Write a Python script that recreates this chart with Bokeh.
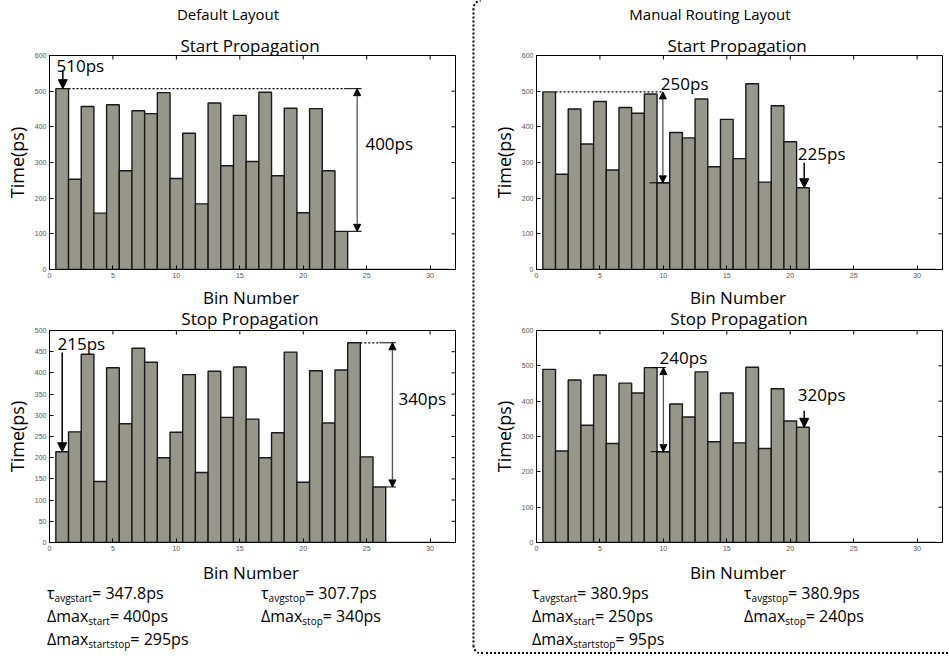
import numpy as np
from bokeh.plotting import figure
from bokeh.layouts import row, column
from bokeh.models import Arrow, NormalHead, Range1d, LinearAxis, FixedTicker, Div, ColumnDataSource, Label
from bokeh.embed import file_html
from bokeh.resources import INLINE

# ---------------- data ----------------
bins = list(range(1, 32))
start_default = [507, 253, 457, 158, 462, 277, 445, 437, 496, 255, 382, 184, 467, 291, 432, 303,
                 497, 263, 452, 159, 451, 277, 107, 0, 0, 0, 0, 0, 0, 0, 0]
stop_default = [214, 261, 444, 144, 412, 280, 458, 425, 200, 260, 396, 165, 404, 295, 414, 291,
                200, 259, 449, 142, 405, 282, 407, 471, 202, 131, 0, 0, 0, 0, 0]
start_manual = [498, 267, 450, 352, 471, 279, 454, 438, 492, 243, 384, 369, 478, 288, 421, 311,
                521, 245, 459, 358, 229, 0, 0, 0, 0, 0, 0, 0, 0, 0, 0]
stop_manual = [490, 259, 460, 332, 474, 280, 451, 423, 495, 257, 392, 355, 483, 285, 423, 282,
               496, 266, 435, 344, 326, 0, 0, 0, 0, 0, 0, 0, 0, 0, 0]

x_ticks = [0, 5, 10, 15, 20, 25, 30]
y_ticks_600 = [0, 100, 200, 300, 400, 500, 600]
y_ticks_500 = [0, 50, 100, 150, 200, 250, 300, 350, 400, 450, 500]

header_left = "Default Layout"
header_right = "Manual Routing Layout"
title_start = "Start Propagation"
title_stop = "Stop Propagation"
x_label = "Bin Number"
y_label = "Time(ps)"

stats_default = [("τ", "avgstart", "= 347.8ps"), ("τ", "avgstop", "= 307.7ps"),
                 ("Δmax", "start", "= 400ps"), ("Δmax", "stop", "= 340ps"),
                 ("Δmax", "startstop", "= 295ps")]
stats_manual = [("τ", "avgstart", "= 380.9ps"), ("τ", "avgstop", "= 380.9ps"),
                ("Δmax", "start", "= 250ps"), ("Δmax", "stop", "= 240ps"),
                ("Δmax", "startstop", "= 95ps")]

FONT = "Open Sans"
BAR_FILL = "#96968a"


def make_panel(vals, ymax, yticks, width, height, mbl, mbr, mbt, mbb):
    p = figure(width=width, height=height, x_range=Range1d(0, 32), y_range=Range1d(0, ymax),
               output_backend="svg", toolbar_location=None,
               min_border_left=mbl, min_border_right=mbr,
               min_border_top=mbt, min_border_bottom=mbb,
               x_axis_location=None, y_axis_location=None)
    p.grid.visible = False
    p.border_fill_color = None
    p.outline_line_color = "black"
    p.outline_line_width = 1
    b = np.array(bins, dtype=float)
    src = ColumnDataSource(dict(left=b - 0.5, right=b + 0.5, top=vals))
    p.quad(left="left", right="right", bottom=0, top="top", source=src,
           fill_color=BAR_FILL, line_color="#1a1a1a", line_width=1.4)
    for loc, ticks in [("below", x_ticks), ("left", yticks)]:
        ax = LinearAxis(ticker=FixedTicker(ticks=ticks))
        ax.major_tick_in = 4
        ax.major_tick_out = 0
        ax.minor_tick_line_color = None
        ax.axis_line_color = "black"
        ax.major_tick_line_color = "black"
        ax.major_label_text_font_size = "7px"
        ax.major_label_text_color = "#555555"
        ax.major_label_text_font = "Liberation Sans"
        ax.major_label_standoff = 3
        p.add_layout(ax, loc)
    p.yaxis.axis_label = y_label
    p.yaxis.axis_label_text_font = FONT
    p.yaxis.axis_label_text_font_size = "18px"
    p.yaxis.axis_label_text_font_style = "normal"
    p.yaxis.axis_label_text_color = "black"
    p.yaxis.axis_label_standoff = 3
    # inward ticks on the top and right edges of the box
    p.scatter(x=x_ticks, y=[ymax] * len(x_ticks), marker="dash", angle=np.pi / 2, size=8,
              line_color="black", line_width=1)
    p.scatter(x=[32] * len(yticks), y=yticks, marker="dash", size=8,
              line_color="black", line_width=1)
    return p


def data_label(p, text, x, y, size="17px"):
    p.add_layout(Label(x=x, y=y, text=text, text_font=FONT, text_font_size=size,
                       text_align="left", text_baseline="middle", text_color="black"))


def single_arrow(p, x, y0, y1):
    p.add_layout(Arrow(end=NormalHead(size=9, fill_color="black", line_color="black"),
                       x_start=x, y_start=y0, x_end=x, y_end=y1,
                       line_color="black", line_width=1.5))


def double_arrow(p, x, y0, y1):
    p.add_layout(Arrow(start=NormalHead(size=7, fill_color="black", line_color="black"),
                       end=NormalHead(size=7, fill_color="black", line_color="black"),
                       x_start=x, y_start=y0, x_end=x, y_end=y1,
                       line_color="#555555", line_width=1.3))


def text_div(width, height, items, bottom_line=None):
    parts = []
    for html, cx, cy, size, align in items:
        lh = int(round(size * 1.25))
        top = cy - lh / 2
        if align == "center":
            parts.append(f'<div style="position:absolute;left:{cx - 200}px;width:400px;top:{top}px;'
                         f'text-align:center;white-space:nowrap;font-size:{size}px;line-height:{lh}px;">'
                         f'{html}</div>')
        else:
            parts.append(f'<div style="position:absolute;left:{cx}px;top:{top}px;'
                         f'white-space:nowrap;font-size:{size}px;line-height:{lh}px;">{html}</div>')
    if bottom_line is not None:
        parts.append(f'<div style="position:absolute;left:0px;top:{bottom_line}px;width:{width}px;'
                     f'height:0px;border-top:2px dotted black;"></div>')
    html = (f'<div style="position:relative;width:{width}px;height:{height}px;'
            f'font-family:\'{FONT}\';color:black;">' + "".join(parts) + '</div>')
    return Div(text=html, width=width, height=height, margin=0)


def stat_items(stats, col_x, row_y):
    pos = [(0, 0), (1, 0), (0, 1), (1, 1), (0, 2)]
    out = []
    for (sym, sub, rest), (c, r) in zip(stats, pos):
        html = (f'{sym}<span style="font-size:10px;vertical-align:-3px;line-height:0;">{sub}</span>{rest}')
        out.append((html, col_x[c], row_y[r], 16, "left"))
    return out


LW, RW = 465, 467

# ---------- Default layout, start ----------
p1 = make_panel(start_default, 600, y_ticks_600, LW, 229, 49, 10, 4, 11)
top, bot = start_default[0], start_default[22]
p1.line([1.5, 23.2], [top, top], line_dash="2 2", line_width=1.2, line_color="black")
p1.segment(x0=[23.2, 23.5], y0=[top, bot], x1=[24.6, 24.6], y1=[top, bot],
           line_color="black", line_width=1)
double_arrow(p1, 24.25, top, bot)
data_label(p1, "400ps", 24.9, 354)
single_arrow(p1, 1.05, 560, top)
data_label(p1, "510ps", 0.55, 572)

# ---------- Default layout, stop ----------
p2 = make_panel(stop_default, 500, y_ticks_500, LW, 227, 49, 10, 4, 11)
top, bot = stop_default[23], stop_default[25]
p2.line([24.5, 26.0], [top, top], line_dash="2 2", line_width=1.2, line_color="black")
p2.segment(x0=[26.0, 26.5], y0=[top, bot], x1=[27.3, 27.3], y1=[top, bot],
           line_color="black", line_width=1)
double_arrow(p2, 27.03, top, bot)
data_label(p2, "340ps", 27.5, 339)
single_arrow(p2, 1.0, 448, stop_default[0])
data_label(p2, "215ps", 0.63, 469)

# ---------- Manual layout, start ----------
p3 = make_panel(start_manual, 600, y_ticks_600, RW, 229, 55, 6, 4, 11)
top, bot = start_manual[0], start_manual[9]
p3.line([1.5, 10.0], [top, top], line_dash="2 2", line_width=1.2, line_color="black")
p3.segment(x0=[8.9], y0=[bot], x1=[10.5], y1=[bot], line_color="black", line_width=1)
double_arrow(p3, 9.96, top, bot)
data_label(p3, "250ps", 9.8, 522)
single_arrow(p3, 21.1, 299, start_manual[20])
data_label(p3, "225ps", 20.6, 325)

# ---------- Manual layout, stop ----------
p4 = make_panel(stop_manual, 600, y_ticks_600, RW, 227, 55, 6, 4, 11)
top, bot = stop_manual[8], stop_manual[9]
p4.segment(x0=[9.0, 9.0], y0=[top, bot], x1=[10.2, 10.5], y1=[top, bot],
           line_color="black", line_width=1)
double_arrow(p4, 10.0, top, bot)
data_label(p4, "240ps", 9.7, 523)
single_arrow(p4, 21.1, 373, stop_manual[20])
data_label(p4, "320ps", 20.6, 418)

# ---------- text blocks ----------
hl = text_div(LW, 51, [(header_left, 228, 14, 15, "center"), (title_start, 250, 45, 17, "center")])
hr = text_div(RW, 51, [(header_right, 229, 14, 15, "center"), (title_start, 256, 45, 17, "center")])
ml = text_div(LW, 46, [(x_label, 251, 17, 17, "center"), (title_stop, 250, 38, 17, "center")])
mr = text_div(RW, 46, [(x_label, 257, 17, 17, "center"), (title_stop, 258, 38, 17, "center")])
bl = text_div(LW, 103, [(x_label, 251, 19, 17, "center")] +
              stat_items(stats_default, [47, 261], [40, 63, 86]))
br = text_div(RW, 103, [(x_label, 257, 19, 17, "center")] +
              stat_items(stats_manual, [51, 263], [40, 63, 86]), bottom_line=99)

# ---------- dashed separator strip ----------
SH = 656
s = figure(width=16, height=SH, x_range=Range1d(0, 16), y_range=Range1d(0, SH),
           output_backend="svg", toolbar_location=None, min_border=0,
           x_axis_location=None, y_axis_location=None)
s.grid.visible = False
s.outline_line_color = None
s.border_fill_color = None
s.line([8, 8], [SH - 8, 11], line_dash="2 2", line_width=2, line_color="black")
s.arc(x=16, y=SH - 8, radius=8, start_angle=np.pi / 2, end_angle=np.pi,
      line_dash="2 2", line_width=2, line_color="black")
s.arc(x=16, y=11, radius=8, start_angle=np.pi, end_angle=1.5 * np.pi,
      line_dash="2 2", line_width=2, line_color="black")

layout = row(column(hl, p1, ml, p2, bl, spacing=0), s,
             column(hr, p3, mr, p4, br, spacing=0), spacing=0)

open("out.html", "w").write(file_html(layout, INLINE))
